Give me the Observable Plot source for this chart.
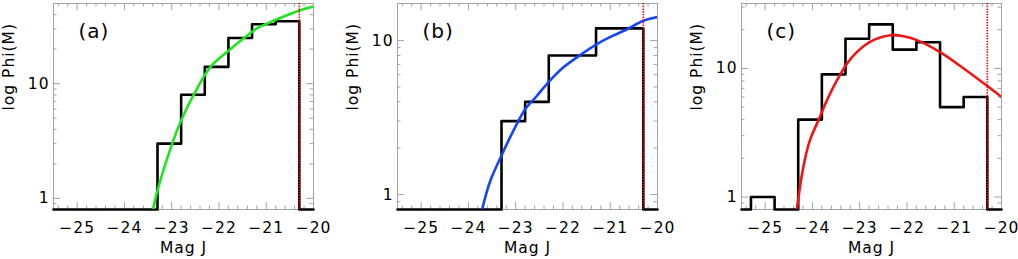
<!DOCTYPE html>
<html><head><meta charset="utf-8">
<script src="https://cdn.jsdelivr.net/npm/d3@7"></script>
<script src="https://cdn.jsdelivr.net/npm/@observablehq/plot@0.6"></script>
<style>
body{margin:0;background:#fff;}
#wrap{position:relative;width:1018px;height:259px;overflow:hidden;background:#fff;}
#wrap svg{position:absolute;top:0;}
</style></head><body><div id="wrap"></div>
<script>
// ---- shared axis data ----
const magRange = [-25.5, -20];
const xTickValues = [-25, -24, -23, -22, -21, -20];
const xTickLabels = ["−25", "−24", "−23", "−22", "−21", "−20"];
const yTickValues = [1, 10];
const yTickLabels = ["1", "10"];
const yMinorTicks = [0.9, 2, 3, 4, 5, 6, 7, 8, 9, 20, 30, 40];
const completenessLimit = -20.3;
const xLabel = "Mag J";
const yLabel = "log Phi(M)";

// ---- panel (a) ----
const histAEdges  = [-25.5, -23.3, -22.8, -22.3, -21.8, -21.3, -20.8, -20.3, -20];
const histACounts = [0, 3, 8, 14, 25, 33, 35, 0, 0];
const fitAMag = [-23.39, -23.34, -22.99, -22.80, -22.53, -22.18, -21.79, -21.47, -21.19, -21.05, -20.31, -20.0];
const fitAPhi = [0.8, 1.01, 3.0, 4.77, 8.05, 14.0, 19.5, 25.0, 30.5, 32.5, 43.3, 47.0];

// ---- panel (b) ----
const histBEdges  = [-25.5, -23.3, -22.8, -22.3, -21.8, -21.3, -20.8, -20.3, -20];
const histBCounts = [0, 3, 4, 8, 8, 12, 12, 0, 0];
const fitBMag = [-23.71, -23.54, -23.29, -23.05, -22.80, -22.55, -22.31, -21.99, -21.63, -21.30, -20.93, -20.65, -20.31, -20.0];
const fitBPhi = [0.8, 1.22, 1.82, 2.59, 3.58, 4.38, 5.35, 6.70, 8.07, 9.42, 10.8, 11.8, 13.4, 14.2];

// ---- panel (c) ----
const histCEdges  = [-25.5, -25.3, -24.8, -24.3, -23.8, -23.3, -22.8, -22.3, -21.8, -21.3, -20.8, -20.3, -20];
const histCCounts = [0, 1, 0, 4, 9, 17, 22, 14, 16, 5, 6, 0, 0];
const fitCMag = [-24.33, -24.19, -24.05, -23.87, -23.69, -23.48, -23.27, -23.06, -22.78, -22.35, -22.07, -21.79, -21.30, -20.80, -20.30, -20.0];
const fitCPhi = [0.8, 1.73, 2.78, 3.97, 5.68, 8.1, 10.9, 13.4, 16.1, 18.1, 17.8, 16.6, 13.4, 10.0, 7.3, 6.0];

const panels = [
  {label: "(a)", left: 0,   yDomain: [0.8, 50],   color: "#1ee61e", edges: histAEdges, counts: histACounts, fm: fitAMag, fp: fitAPhi},
  {label: "(b)", left: 344, yDomain: [0.8, 17.4], color: "#1446f5", edges: histBEdges, counts: histBCounts, fm: fitBMag, fp: fitBPhi},
  {label: "(c)", left: 688, yDomain: [0.8, 32],   color: "#f01414", edges: histCEdges, counts: histCCounts, fm: fitCMag, fp: fitCPhi}
];

const W = 330, H = 259, mL = 53, mR = 17, mT = 3, mB = 50;
const innerW = W - mL - mR, innerH = H - mT - mB;
const gray = "#a3a3a3";
const xMinor = d3.range(-127, -100).filter(i => i % 5 !== 0).map(i => i / 5);

const wrap = document.getElementById("wrap");
for (const p of panels) {
  const hist = p.edges.map((x, i) => ({x, y: p.counts[i] > 0 ? p.counts[i] : p.yDomain[0]}));
  const fit = p.fm.map((x, i) => ({x, y: p.fp[i]}));
  const ymin = yMinorTicks.filter(v => v > p.yDomain[0] && v < p.yDomain[1]);
  const chart = Plot.plot({
    width: W, height: H,
    marginLeft: mL, marginRight: mR, marginTop: mT, marginBottom: mB,
    x: {domain: magRange, axis: null},
    y: {type: "log", domain: p.yDomain, axis: null},
    style: {fontFamily: "'DejaVu Sans', sans-serif", fontSize: "15.5px", letterSpacing: "1px", background: "white", overflow: "visible"},
    marks: [
      Plot.frame({stroke: gray, strokeWidth: 1}),
      // x ticks (inside, bottom and top)
      Plot.ruleX(xTickValues, {x: d => d, insetTop: innerH - 7, stroke: gray}),
      Plot.ruleX(xTickValues, {x: d => d, insetBottom: innerH - 7, stroke: gray}),
      Plot.ruleX(xMinor, {x: d => d, insetTop: innerH - 3.5, stroke: gray}),
      Plot.ruleX(xMinor, {x: d => d, insetBottom: innerH - 3.5, stroke: gray}),
      // y ticks (inside, left and right)
      Plot.ruleY(yTickValues, {y: d => d, insetRight: innerW - 7, stroke: gray}),
      Plot.ruleY(yTickValues, {y: d => d, insetLeft: innerW - 7, stroke: gray}),
      Plot.ruleY(ymin, {y: d => d, insetRight: innerW - 3.5, stroke: gray}),
      Plot.ruleY(ymin, {y: d => d, insetLeft: innerW - 3.5, stroke: gray}),
      // histogram
      Plot.line(hist, {x: "x", y: "y", curve: "step-after", stroke: "black", strokeWidth: 2.6}),
      // fit curve
      Plot.line(fit, {x: "x", y: "y", curve: "catmull-rom", stroke: p.color, strokeWidth: 2.6, clip: true}),
      // completeness limit
      Plot.ruleX([completenessLimit], {x: d => d, stroke: "#ff0000", strokeWidth: 1.6, strokeDasharray: "1.5,1.2"}),
      // tick labels
      Plot.text(xTickValues, {x: d => d, text: (d, i) => xTickLabels[i], frameAnchor: "bottom", dy: 19, lineAnchor: "middle", fill: "black"}),
      Plot.text(yTickValues, {y: d => d, text: (d, i) => yTickLabels[i], frameAnchor: "left", dx: -4, textAnchor: "end", lineAnchor: "middle", fill: "black"}),
      // axis labels
      Plot.text([xLabel], {text: d => d, frameAnchor: "bottom", dy: 39, lineAnchor: "middle", fill: "black"}),
      Plot.text([yLabel], {text: d => d, frameAnchor: "left", dx: -44, dy: 4, rotate: -90, lineAnchor: "middle", fill: "black"}),
      // panel label
      Plot.text([p.label], {text: d => d, frameAnchor: "top-left", dx: 25, dy: 28, textAnchor: "start", lineAnchor: "middle", fontSize: 20, fill: "black"})
    ]
  });
  chart.style.left = p.left + "px";
  wrap.appendChild(chart);
}
</script></body></html>
